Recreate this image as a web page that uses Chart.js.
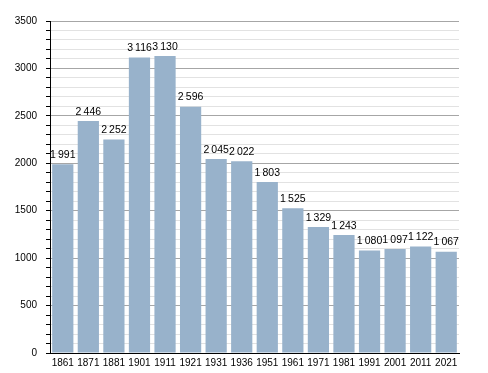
<!DOCTYPE html>
<html>
<head>
<meta charset="utf-8">
<script src="https://cdn.jsdelivr.net/npm/chart.js@4/dist/chart.umd.min.js"></script>
<style>
  html, body { margin: 0; padding: 0; background: #fff; }
  #wrap { width: 488px; height: 373px; }
</style>
</head>
<body>
<div id="wrap"><canvas id="myChart" width="488" height="373"></canvas></div>
<script>
// census years and population
const years = ['1861', '1871', '1881', '1901', '1911', '1921', '1931', '1936', '1951', '1961', '1971', '1981', '1991', '2001', '2011', '2021'];
const population = [1991, 2446, 2252, 3116, 3130, 2596, 2045, 2022, 1803, 1525, 1329, 1243, 1080, 1097, 1122, 1067];

const fmt = v => String(v).replace(/\B(?=(\d{3})+(?!\d))/g, '\u2009');

// value labels above bars
const valueLabels = {
  id: 'valueLabels',
  afterDatasetsDraw(chart) {
    const ctx = chart.ctx;
    const meta = chart.getDatasetMeta(0);
    ctx.save();
    ctx.font = '10.5px "Liberation Sans", Arial, sans-serif';
    ctx.fillStyle = '#000';
    ctx.textAlign = 'center';
    ctx.textBaseline = 'bottom';
    meta.data.forEach((bar, i) => {
      ctx.fillText(fmt(population[i]), bar.x, bar.y - 4);
    });
    ctx.restore();
  }
};

Chart.defaults.font.family = '"Liberation Sans", Arial, sans-serif';
Chart.defaults.font.size = 10;
Chart.defaults.color = '#000';

const config = {
  type: 'bar',
  data: {
    labels: years,
    datasets: [{
      data: population,
      backgroundColor: '#98b2cb',
      borderWidth: 0,
      categoryPercentage: 1,
      barPercentage: 0.83,
    }],
  },
  options: {
    responsive: false,
    animation: false,
    layout: { padding: { left: 0, top: 21, right: 29, bottom: 0 } },
    plugins: { legend: { display: false }, tooltip: { enabled: false } },
    scales: {
      x: {
        grid: { display: false, drawTicks: false },
        border: { color: '#000', width: 1 },
        ticks: { padding: 4, maxRotation: 0, autoSkip: false },
        afterFit: s => { s.height = 20; },
      },
      y: {
        min: 0,
        max: 3500,
        grid: {
          color: c => (c.tick && c.tick.value % 500 === 0 ? '#a6a6a6' : '#e2e2e2'),
          tickColor: '#000',
          tickLength: 4,
        },
        border: { color: '#000', width: 1 },
        ticks: {
          stepSize: 100,
          autoSkip: false,
          padding: 9,
          callback: v => (v % 500 === 0 ? v : ''),
        },
        afterFit: s => { s.width = 50; },
      },
    },
  },
  plugins: [valueLabels],
};

const myChart = new Chart(document.getElementById('myChart'), config);
</script>
</body>
</html>
